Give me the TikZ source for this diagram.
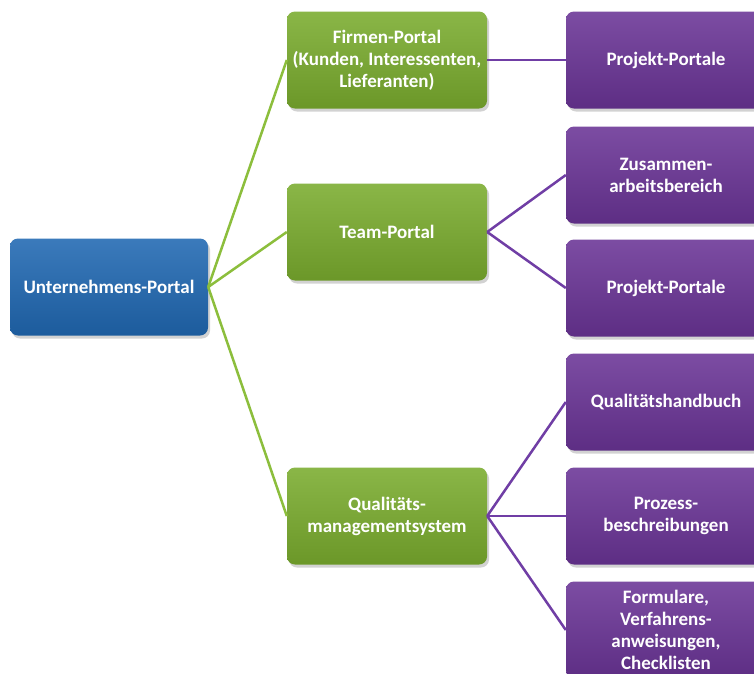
\documentclass[tikz,border=0pt]{standalone}
\usepackage{fontspec}
\setmainfont{Carlito}
\usetikzlibrary{shadows}
\definecolor{portalblue}{RGB}{32,104,178}
\definecolor{portalgreen}{RGB}{122,172,46}
\definecolor{portalpurple}{RGB}{106,52,150}
\definecolor{linegreen}{RGB}{140,190,60}
\definecolor{linepurple}{RGB}{112,62,165}
\tikzstyle{box}=[rounded corners=8pt, minimum height=97pt, inner sep=0pt, align=center, text=white,
  font=\fontsize{19}{22}\selectfont\bfseries, drop shadow={opacity=0.35,shadow xshift=2pt,shadow yshift=-3pt}]
\tikzstyle{rootbox}=[box, minimum width=198pt, top color=portalblue!88!white, bottom color=portalblue!88!black]
\tikzstyle{midbox}=[box, minimum width=200pt, top color=portalgreen!88!white, bottom color=portalgreen!88!black]
\tikzstyle{leafbox}=[box, minimum width=200pt, top color=portalpurple!88!white, bottom color=portalpurple!88!black]
\tikzstyle{greenlink}=[linegreen, line width=2.5pt]
\tikzstyle{purplelink}=[linepurple, line width=2.5pt]
\newcommand{\leaf}[3]{
  \node[leafbox] (#1) at (666,#2) {#3};
}
\begin{document}
\begin{tikzpicture}[x=1pt,y=-1pt]
	\clip (0,0) rectangle (754,673);
	\fill[white] (0,0) rectangle (754,673);
	% root and middle level
	\node[rootbox] (unternehmen) at (109,287) {Unternehmens-Portal};
	\node[midbox] (firmen) at (387,60) {Firmen-Portal\\(Kunden, Interessenten,\\Lieferanten)};
	\node[midbox] (team) at (387,232) {Team-Portal};
	\node[midbox] (quali) at (387,516) {Qualitäts-\\managementsystem};
	% leaves
	\leaf{projekt1}{60}{Projekt-Portale}
	\leaf{zusammen}{175}{Zusammen-\\arbeitsbereich}
	\leaf{projekt2}{288}{Projekt-Portale}
	\leaf{handbuch}{402}{Qualitätshandbuch}
	\leaf{prozess}{516}{Prozess-\\beschreibungen}
	\leaf{formulare}{630}{Formulare,\\Verfahrens-\\anweisungen,\\Checklisten}
	% connectors
	\foreach \m in {firmen,team,quali}
		\draw[greenlink] (unternehmen.east) -- (\m.west);
	\draw[purplelink] (firmen.east) -- (projekt1.west);
	\foreach \l in {zusammen,projekt2}
		\draw[purplelink] (team.east) -- (\l.west);
	\foreach \l in {handbuch,prozess,formulare}
		\draw[purplelink] (quali.east) -- (\l.west);
\end{tikzpicture}
\end{document}
